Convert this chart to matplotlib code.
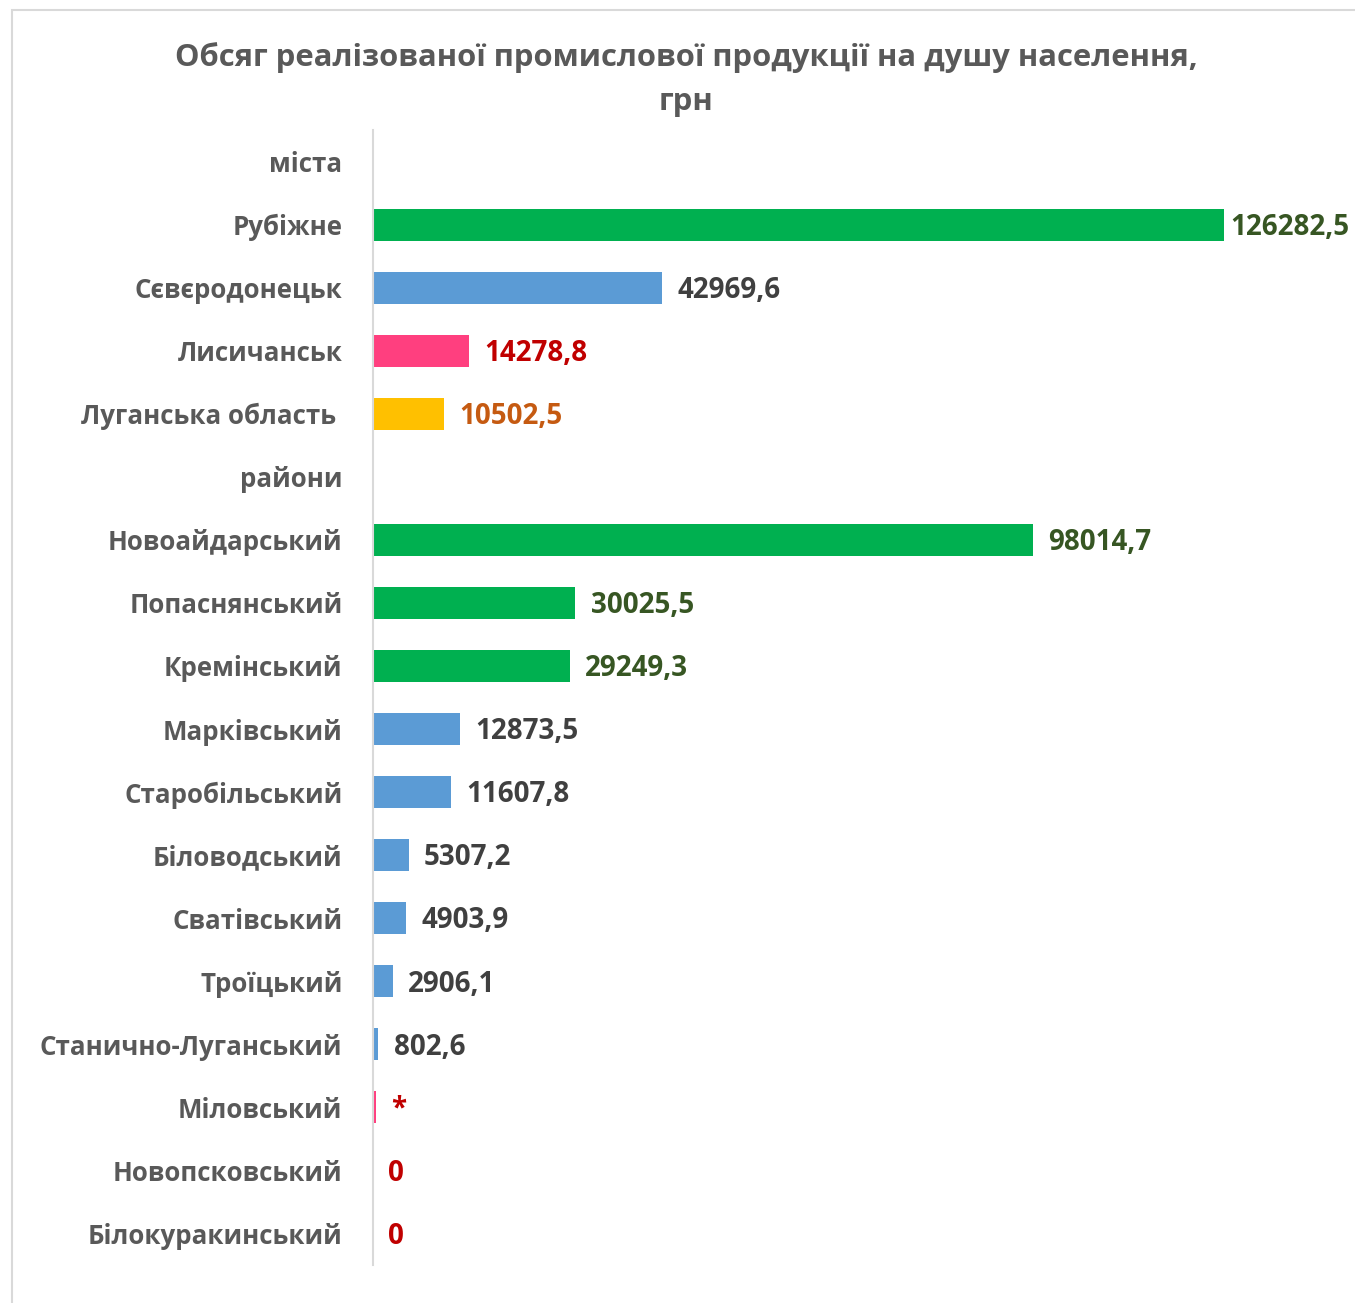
import numpy as np
import matplotlib
matplotlib.use("Agg")
import matplotlib.pyplot as plt
from matplotlib.patches import Rectangle

plt.rcParams['font.family'] = ['Open Sans', 'DejaVu Sans']

categories = ['міста', 'Рубіжне', 'Сєвєродонецьк', 'Лисичанськ', 'Луганська область ',
              'райони', 'Новоайдарський', 'Попаснянський', 'Кремінський', 'Марківський',
              'Старобільський', 'Біловодський', 'Сватівський', 'Троїцький',
              'Станично-Луганський', 'Міловський', 'Новопсковський', 'Білокуракинський']
values = [np.nan, 126282.5, 42969.6, 14278.8, 10502.5,
          np.nan, 98014.7, 30025.5, 29249.3, 12873.5,
          11607.8, 5307.2, 4903.9, 2906.1,
          802.6, 450, 0, 0]
value_labels = ['', '126282,5', '42969,6', '14278,8', '10502,5',
                '', '98014,7', '30025,5', '29249,3', '12873,5',
                '11607,8', '5307,2', '4903,9', '2906,1',
                '802,6', '*', '0', '0']

GREEN, BLUE, PINK, YELLOW = '#00B050', '#5B9BD5', '#FF3F7F', '#FFC000'
bar_colors = ['none', GREEN, BLUE, PINK, YELLOW,
              'none', GREEN, GREEN, GREEN, BLUE,
              BLUE, BLUE, BLUE, BLUE,
              BLUE, PINK, BLUE, BLUE]
DKGREEN, GRAY, RED, ORANGE = '#375623', '#404040', '#C00000', '#C55A11'
label_colors = [GRAY, DKGREEN, GRAY, RED, ORANGE,
                GRAY, DKGREEN, DKGREEN, DKGREEN, GRAY,
                GRAY, GRAY, GRAY, GRAY,
                GRAY, RED, RED, RED]

W, H = 1355, 1303
fig = plt.figure(figsize=(W / 100, H / 100), dpi=100)
ax = fig.add_axes([373 / W, 1 - 1265 / H, (1316 - 373) / W, (1265 - 130) / H])

y = np.arange(len(categories))
vals = np.nan_to_num(np.array(values, dtype=float))
ax.barh(y, vals, height=0.51, color=bar_colors)

for i, (v, txt) in enumerate(zip(vals, value_labels)):
    if not txt:
        continue
    off = 5 if i == 1 else 11
    dy = 1 if txt == '*' else 2
    ax.annotate(txt, (v, i), xytext=(off, -dy), textcoords='offset points',
                ha='left', va='center', fontsize=20, fontweight='bold',
                color=label_colors[i])

ax.set_xlim(0, 140000)
ax.set_ylim(len(categories) - 0.5, -0.5)
ax.set_yticks(y)
ax.set_yticklabels(categories, fontsize=18.6, fontweight='bold', color='#595959')
ax.tick_params(axis='y', length=0, pad=22)
ax.set_xticks([])
for s in ['top', 'right', 'bottom']:
    ax.spines[s].set_visible(False)
ax.spines['left'].set_color('#D9D9D9')
ax.spines['left'].set_linewidth(1.5)

fig.text(686 / W, 1 - 79.5 / H,
         'Обсяг реалізованої промислової продукції на душу населення,\nгрн',
         ha='center', va='center', fontsize=22.3, fontweight='bold',
         color='#595959', linespacing=1.58)

fig.patches.append(Rectangle((12 / W, -0.05), 1.2, 1 - 10 / H + 0.05,
                             transform=fig.transFigure, fill=False,
                             edgecolor='#D9D9D9', linewidth=1.5))

fig.savefig('out.png', dpi=100)
